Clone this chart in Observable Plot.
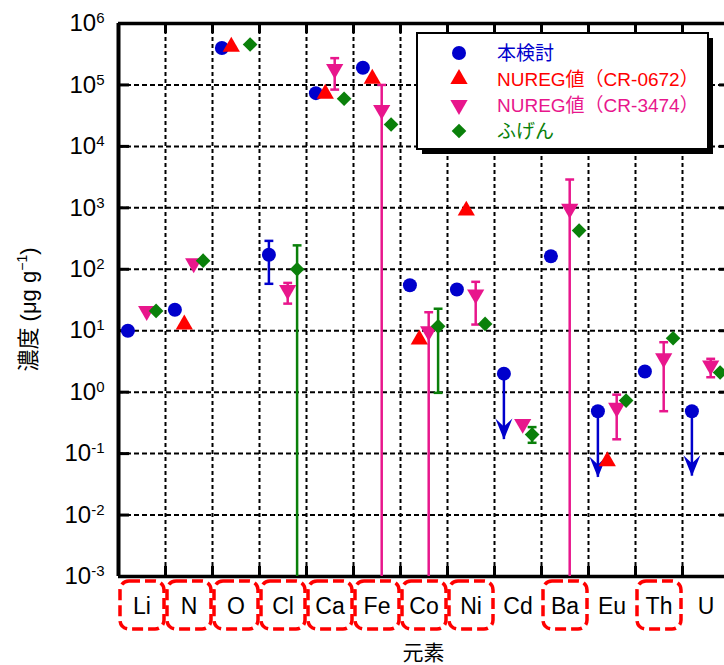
<!DOCTYPE html>
<html><head><meta charset="utf-8">
<script src="https://cdn.jsdelivr.net/npm/d3@7"></script>
<script src="https://cdn.jsdelivr.net/npm/@observablehq/plot@0.6"></script>
<style>
html,body{margin:0;padding:0;background:#fff;}
#chart{position:relative;width:724px;height:665px;overflow:hidden;}
</style></head><body><div id="chart"></div>
<script>
// ---- data ----
const elements = ["Li","N","O","Cl","Ca","Fe","Co","Ni","Cd","Ba","Eu","Th","U"];
const boxed = ["Li","N","O","Cl","Ca","Fe","Co","Ni","Ba","Th"];
const seriesNames = ["本検討","NUREG値（CR-0672）","NUREG値（CR-3474）","ふげん"];
const seriesColors = ["#0000cc","#ff0000","#e8168c","#0a800a"];
const thisStudy = [10, 22, 4.0e5, 172, 7.35e4, 1.9e5, 55, 47, 2.0, 163, 0.49, 2.17, 0.49];
const nureg0672 = [null, 12.6, 4.2e5, null, 7.2e4, 1.26e5, 7.2, 900, null, null, 0.075, null, null];
const nureg3474 = [21, 125, null, 46, 1.82e5, 3.93e4, 9.8, 39, 0.305, 964, 0.556, 3.56, 2.72];
const fugen = [21, 138, 4.55e5, 100, 5.96e4, 2.27e4, 11.8, 12.9, 0.204, 426, 0.73, 7.55, 2.09];
// error bars: [element, low, high]; low 0 = bar extends below the axis
const thisStudyErr = [["Cl", 58, 290]];
const nureg3474Err = [["Cl",27.6,60],["Ca",8.4e4,2.73e5],["Fe",0,1.0e5],["Co",0,20],["Ni",12.6,62.5],["Ba",0,2890],["Eu",0.171,0.91],["Th",0.49,6.5],["U",1.75,3.49]];
const fugenErr = [["Cl",0,245],["Co",0.975,22.8],["Cd",0.15,0.27]];
// upper limits of this study: [element, arrow tip]
const thisStudyLimits = [["Cd",0.169],["Eu",0.041],["U",0.043]];
const yTicks = [1e-3,1e-2,1e-1,1e0,1e1,1e2,1e3,1e4,1e5,1e6];
const xLabel = "元素";

// ---- derived tables ----
const yDomain = [1e-3, 1e6];
const offsets = [0.2, 0.4, 0.6, 0.8];
const allSeries = [thisStudy, nureg0672, nureg3474, fugen];
const symbolNames = ["circle","triangle","triangle","diamond2"];
const rotations = [0, 0, 180, 0];
const radii = [7, 6.4, 6.4, 6.6];
const points = [];
allSeries.forEach((vals, s) => vals.forEach((v, i) => { if (v != null) points.push({x: i + offsets[s], y: v, s}); }));
const errs = [];
[[thisStudyErr,0],[nureg3474Err,2],[fugenErr,3]].forEach(([tab, s]) => tab.forEach(([el, lo, hi]) =>
  errs.push({x: elements.indexOf(el) + offsets[s], lo: lo > 0 ? lo : yDomain[0], hi, s, capLo: lo > 0})));
const caps = errs.flatMap(e => [{x: e.x, y: e.hi, s: e.s}].concat(e.capLo ? [{x: e.x, y: e.lo, s: e.s}] : []));
const limits = thisStudyLimits.map(([el, tip]) => { const i = elements.indexOf(el); return {x: i + offsets[0], v: thisStudy[i], tip}; });

const capSymbol = {draw(ctx, size) { const h = Math.sqrt(size) / 2; ctx.moveTo(-h, 0); ctx.lineTo(h, 0); }};
const chevron = {draw(ctx) { ctx.moveTo(0, 0); ctx.lineTo(-8.5, -21); ctx.lineTo(0, -13); ctx.lineTo(8.5, -21); ctx.closePath(); }};

const W = 724, H = 665, ML = 118, MT = 23, MB = 89;
const frameW = W - ML, frameH = H - MT - MB;
const font = "'Liberation Sans', Arial, 'Noto Sans CJK JP', sans-serif";

const plot = Plot.plot({
  width: W, height: H,
  marginLeft: ML, marginTop: MT, marginBottom: MB, marginRight: 0,
  x: {domain: [0, elements.length], range: [ML, 729]},
  y: {type: "log", domain: yDomain},
  style: {fontFamily: font, background: "white", color: "black"},
  marks: [
    Plot.ruleY(yTicks.slice(1, -1), {stroke: "black", strokeWidth: 2, strokeDasharray: "5,3"}),
    Plot.ruleX(d3.range(1, elements.length), {stroke: "black", strokeWidth: 2, strokeDasharray: "4,3"}),
    Plot.tickY(yTicks, {stroke: "black", strokeWidth: 3, insetRight: frameW - 11}),
    Plot.tickY(yTicks, {stroke: "black", strokeWidth: 3, insetLeft: frameW - 5}),
    Plot.tickX(d3.range(1, elements.length), {stroke: "black", strokeWidth: 3, insetBottom: frameH - 10}),
    Plot.tickX(d3.range(1, elements.length), {stroke: "black", strokeWidth: 3, insetTop: frameH - 10}),
    Plot.ruleY([yDomain[1]], {stroke: "black", strokeWidth: 3.5}),
    Plot.ruleY([yDomain[0]], {stroke: "black", strokeWidth: 3.5}),
    Plot.ruleX([0], {stroke: "black", strokeWidth: 4}),
    Plot.axisY({ticks: yTicks, tickFormat: d => String(Math.round(Math.log10(d))), tickSize: 0, tickPadding: 14, fontSize: 24, label: null}),
    Plot.axisX({ticks: elements.map((e, i) => i + 0.5), tickFormat: d => elements[Math.floor(d)], tickSize: 0, tickPadding: 21, fontSize: 23, label: null}),
    Plot.ruleX(errs, {x: "x", y1: "lo", y2: "hi", stroke: d => seriesColors[d.s], strokeWidth: 2.5}),
    Plot.dot(caps, {x: "x", y: "y", symbol: capSymbol, r: 5, fill: "none", stroke: d => seriesColors[d.s], strokeWidth: 2.5}),
    Plot.ruleX(limits, {x: "x", y1: "v", y2: "tip", stroke: seriesColors[0], strokeWidth: 2.5}),
    Plot.dot(limits, {x: "x", y: "tip", symbol: chevron, r: 5, fill: seriesColors[0], stroke: "none"}),
    ...[0, 1, 2, 3].map(s => Plot.dot(points.filter(p => p.s === s), {
      x: "x", y: "y", symbol: symbolNames[s], rotate: rotations[s], r: radii[s], fill: seriesColors[s], stroke: "none"
    }))
  ]
});
document.getElementById("chart").appendChild(plot);
const svg = d3.select(plot);

// superscript exponents on y tick labels
svg.selectAll('g[aria-label="y-axis tick label"] text').each(function() {
  const e = this.textContent; const t = d3.select(this);
  t.text(null);
  t.append("tspan").text("10");
  t.append("tspan").attr("dy", -8).attr("font-size", 15).text(e);
});

// dashed rounded boxes around highlighted elements
const xs = plot.scale("x");
boxed.forEach(el => {
  const i = elements.indexOf(el);
  const x0 = xs.apply(i), x1 = xs.apply(i + 1);
  svg.append("rect").attr("x", x0 + 2).attr("y", 581).attr("width", x1 - x0 - 3).attr("height", 48)
    .attr("rx", 9).attr("fill", "none").attr("stroke", "#ff0000").attr("stroke-width", 3.5).attr("stroke-dasharray", "11,5");
});

// axis titles
const ys = plot.scale("y");
const yMid = (ys.apply(yDomain[0]) + ys.apply(yDomain[1])) / 2;
const yl = svg.append("text").attr("transform", `translate(36,${yMid + 10}) rotate(-90)`)
  .attr("text-anchor", "middle").attr("font-size", 22).attr("font-family", font).attr("fill", "black");
yl.append("tspan").text("濃度 (μg g");
yl.append("tspan").attr("dy", -9).attr("font-size", 14).text("−1");
yl.append("tspan").attr("dy", 9).text(")");
svg.append("text").attr("x", (xs.apply(0) + xs.apply(elements.length)) / 2).attr("y", 660)
  .attr("text-anchor", "middle").attr("font-size", 21).attr("font-family", font).attr("fill", "black").text(xLabel);

// legend
const lg = svg.append("g");
lg.append("rect").attr("x", 422).attr("y", 38).attr("width", 291).attr("height", 116).attr("fill", "black");
lg.append("rect").attr("x", 417).attr("y", 33).attr("width", 291).attr("height", 116).attr("fill", "white").attr("stroke", "black").attr("stroke-width", 2);
const legendSymbols = [d3.symbolCircle, d3.symbolTriangle, d3.symbolTriangle, d3.symbolDiamond2];
const rows = [53, 79, 105, 131];
seriesNames.forEach((name, s) => {
  lg.append("path").attr("d", d3.symbol(legendSymbols[s], Math.PI * radii[s] * radii[s])())
    .attr("transform", `translate(459,${rows[s]}) rotate(${rotations[s]})`).attr("fill", seriesColors[s]);
  lg.append("text").attr("x", 497).attr("y", rows[s] + 7).attr("font-size", 19).attr("font-family", font)
    .attr("text-anchor", "start").attr("fill", seriesColors[s]).text(name);
});
</script></body></html>
